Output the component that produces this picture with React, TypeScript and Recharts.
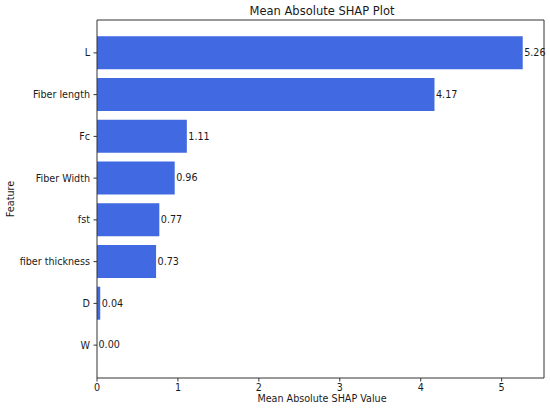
import { Bar, BarChart, LabelList, XAxis, YAxis } from "recharts";

const features = ["L", "Fiber length", "Fc", "Fiber Width", "fst", "fiber thickness", "D", "W"];
const meanAbsShap = [5.26, 4.17, 1.11, 0.96, 0.77, 0.73, 0.04, 0.0];
const xTicks = [0, 1, 2, 3, 4, 5];
const xMax = 5.523;

const data = features.map((feature, i) => ({ feature, value: meanAbsShap[i] }));

const FONT = "'DejaVu Sans', sans-serif";
const AXIS = "#333";
const TEXT = "#1a1a1a";

function ValueLabel(props: any) {
  const { x, y, width, height, value } = props;
  return (
    <text
      x={Number(x) + Number(width) + 1.5}
      y={Number(y) + Number(height) / 2}
      dominantBaseline="central"
      fontSize={9.6}
      fontFamily={FONT}
      fill={TEXT}
    >
      {Number(value).toFixed(2)}
    </text>
  );
}

export default function App() {
  return (
    <div style={{ position: "absolute", left: 0, top: 0, background: "#fff" }}>
      <BarChart
        width={550}
        height={410}
        data={data}
        layout="vertical"
        margin={{ top: 19, right: 5, bottom: 0, left: 0 }}
      >
        <XAxis
          type="number"
          dataKey="value"
          domain={[0, xMax]}
          ticks={xTicks}
          height={32}
          tickSize={3.5}
          tickMargin={3}
          stroke={AXIS}
          tick={{ fill: TEXT, fontSize: 9.6, fontFamily: FONT }}
        />
        <XAxis
          xAxisId="top"
          orientation="top"
          type="number"
          domain={[0, xMax]}
          height={1}
          tick={false}
          tickLine={false}
          stroke={AXIS}
        />
        <YAxis
          type="category"
          dataKey="feature"
          width={97}
          interval={0}
          padding={{ top: 12, bottom: 12 }}
          tickSize={3.5}
          tickMargin={3.5}
          stroke={AXIS}
          tick={{ fill: TEXT, fontSize: 9.6, fontFamily: FONT }}
        />
        <YAxis
          yAxisId="right"
          orientation="right"
          type="number"
          domain={[0, 1]}
          width={1}
          tick={false}
          tickLine={false}
          stroke={AXIS}
        />
        <Bar dataKey="value" fill="#4169E1" minPointSize={0.01} isAnimationActive={false}>
          <LabelList dataKey="value" content={<ValueLabel />} />
        </Bar>
        <text x={322} y={14.5} textAnchor="middle" fontSize={11.5} fontFamily={FONT} fill={TEXT}>
          Mean Absolute SHAP Plot
        </text>
        <text x={322} y={402} textAnchor="middle" fontSize={9.6} fontFamily={FONT} fill={TEXT}>
          Mean Absolute SHAP Value
        </text>
        <text
          x={0}
          y={0}
          transform="translate(13.5,199) rotate(-90)"
          textAnchor="middle"
          fontSize={9.6}
          fontFamily={FONT}
          fill={TEXT}
        >
          Feature
        </text>
      </BarChart>
    </div>
  );
}
